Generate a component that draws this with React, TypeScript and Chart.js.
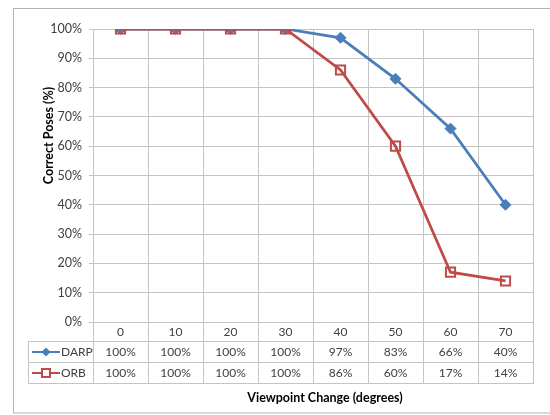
import React, { useEffect, useRef } from "react";
import { Chart, registerables } from "chart.js";

Chart.register(...registerables);

const categories = ["0", "10", "20", "30", "40", "50", "60", "70"];
const darpValues = [100, 100, 100, 100, 97, 83, 66, 40];
const orbValues = [100, 100, 100, 100, 86, 60, 17, 14];
const seriesNames = ["DARP", "ORB"];
const yTitle = "Correct Poses (%)";
const xTitle = "Viewpoint Change (degrees)";

const BLUE = "#4A7EBB";
const RED = "#BE4B48";
const GRID = "#c4c4c4";
const TEXT = "#404040";
const FONT = "Lato, 'Open Sans', sans-serif";

const tablePlugin = {
  id: "dataTable",
  beforeDraw(chart: any) {
    const ctx = chart.ctx;
    ctx.save();
    ctx.fillStyle = "#ffffff";
    ctx.fillRect(0, 0, chart.width, chart.height);
    ctx.strokeStyle = "#b4b4b4";
    ctx.lineWidth = 1;
    ctx.strokeRect(13.5, 8.5, 560, 404.5);
    ctx.restore();
  },
  afterDraw(chart: any) {
    const ctx = chart.ctx;
    const area = chart.chartArea;
    const xs = chart.scales.x;
    const n = categories.length;
    const w = (area.right - area.left) / n;
    const catRowH = 19;
    const rowH = 21;
    const top = area.bottom;
    const r1 = top + catRowH;
    const r2 = r1 + rowH;
    const r3 = r2 + rowH;
    const legendLeft = 28;
    ctx.save();
    ctx.strokeStyle = GRID;
    ctx.lineWidth = 1;
    ctx.beginPath();
    for (let i = 0; i <= n; i++) {
      const x = Math.round(area.left + i * w) + 0.5;
      ctx.moveTo(x, top);
      ctx.lineTo(x, r3);
    }
    ctx.moveTo(legendLeft + 0.5, r1);
    ctx.lineTo(legendLeft + 0.5, r3);
    [r1, r2, r3].forEach((y) => {
      ctx.moveTo(legendLeft, Math.round(y) + 0.5);
      ctx.lineTo(area.right + 1, Math.round(y) + 0.5);
    });
    ctx.stroke();

    ctx.fillStyle = TEXT;
    ctx.font = "12px " + FONT;
    ctx.textAlign = "center";
    ctx.textBaseline = "middle";
    const rows = [darpValues, orbValues];
    categories.forEach((c, i) => {
      const cx = xs.getPixelForValue(i);
      ctx.fillText(c, cx, top + catRowH / 2 + 0.5);
      rows.forEach((vals, r) => {
        ctx.fillText(vals[i] + "%", cx, r1 + rowH * r + rowH / 2 + 0.5);
      });
    });

    // legend keys
    const colors = [BLUE, RED];
    seriesNames.forEach((name, r) => {
      const cy = r1 + rowH * r + rowH / 2 + 0.5;
      ctx.strokeStyle = colors[r];
      ctx.lineWidth = 2;
      ctx.beginPath();
      ctx.moveTo(32, cy);
      ctx.lineTo(60, cy);
      ctx.stroke();
      const mx = 46;
      if (r === 0) {
        ctx.fillStyle = BLUE;
        ctx.beginPath();
        ctx.moveTo(mx, cy - 4.5);
        ctx.lineTo(mx + 4.5, cy);
        ctx.lineTo(mx, cy + 4.5);
        ctx.lineTo(mx - 4.5, cy);
        ctx.closePath();
        ctx.fill();
      } else {
        ctx.fillStyle = "#ffffff";
        ctx.fillRect(mx - 4, cy - 4, 8, 8);
        ctx.strokeRect(mx - 4, cy - 4, 8, 8);
      }
      ctx.fillStyle = TEXT;
      ctx.textAlign = "left";
      ctx.fillText(name, 61, cy);
    });

    ctx.fillStyle = "#000000";
    ctx.font = "bold 12.5px " + FONT;
    ctx.textAlign = "center";
    ctx.fillText(xTitle, 325, 398);

    ctx.translate(49, 135.5);
    ctx.rotate(-Math.PI / 2);
    ctx.fillText(yTitle, 0, 0);
    ctx.restore();
  },
};

export default function App() {
  const ref = useRef<HTMLCanvasElement>(null);
  useEffect(() => {
    document.body.style.margin = "0";
    const chart = new Chart(ref.current as HTMLCanvasElement, {
      type: "line",
      data: {
        labels: categories,
        datasets: [
          {
            label: seriesNames[0],
            data: darpValues,
            borderColor: BLUE,
            backgroundColor: BLUE,
            borderWidth: 2.75,
            pointStyle: "rectRot",
            pointRadius: 5.5,
            pointBorderWidth: 1,
            pointBorderColor: BLUE,
            pointBackgroundColor: BLUE,
            order: 1,
          },
          {
            label: seriesNames[1],
            data: orbValues,
            borderColor: RED,
            backgroundColor: "rgba(0,0,0,0)",
            borderWidth: 2.75,
            pointStyle: "rect",
            pointRadius: 6.5,
            pointBorderWidth: 2,
            pointBorderColor: RED,
            pointBackgroundColor: "rgba(0,0,0,0)",
            order: 0,
          },
        ],
      },
      options: {
        responsive: false,
        animation: false,
        layout: { padding: { top: 29, right: 17, left: 0, bottom: 0 } },
        plugins: { legend: { display: false }, tooltip: { enabled: false } },
        scales: {
          x: {
            type: "category",
            offset: true,
            grid: { offset: true, color: GRID, drawTicks: false },
            border: { color: GRID },
            ticks: { display: false },
            afterFit: (s: any) => {
              s.height = 93;
            },
          },
          y: {
            min: 0,
            max: 100,
            ticks: {
              stepSize: 10,
              callback: (v: any) => v + "%",
              color: TEXT,
              font: { family: FONT, size: 12.5 },
              padding: 7,
            },
            grid: { color: GRID, tickLength: 4 },
            border: { color: GRID },
            afterFit: (s: any) => {
              s.width = 93;
            },
          },
        },
      },
      plugins: [tablePlugin],
    } as any);
    return () => chart.destroy();
  }, []);
  return (
    <div style={{ width: 550, height: 415 }}>
      <canvas ref={ref} width={550} height={415} />
    </div>
  );
}
